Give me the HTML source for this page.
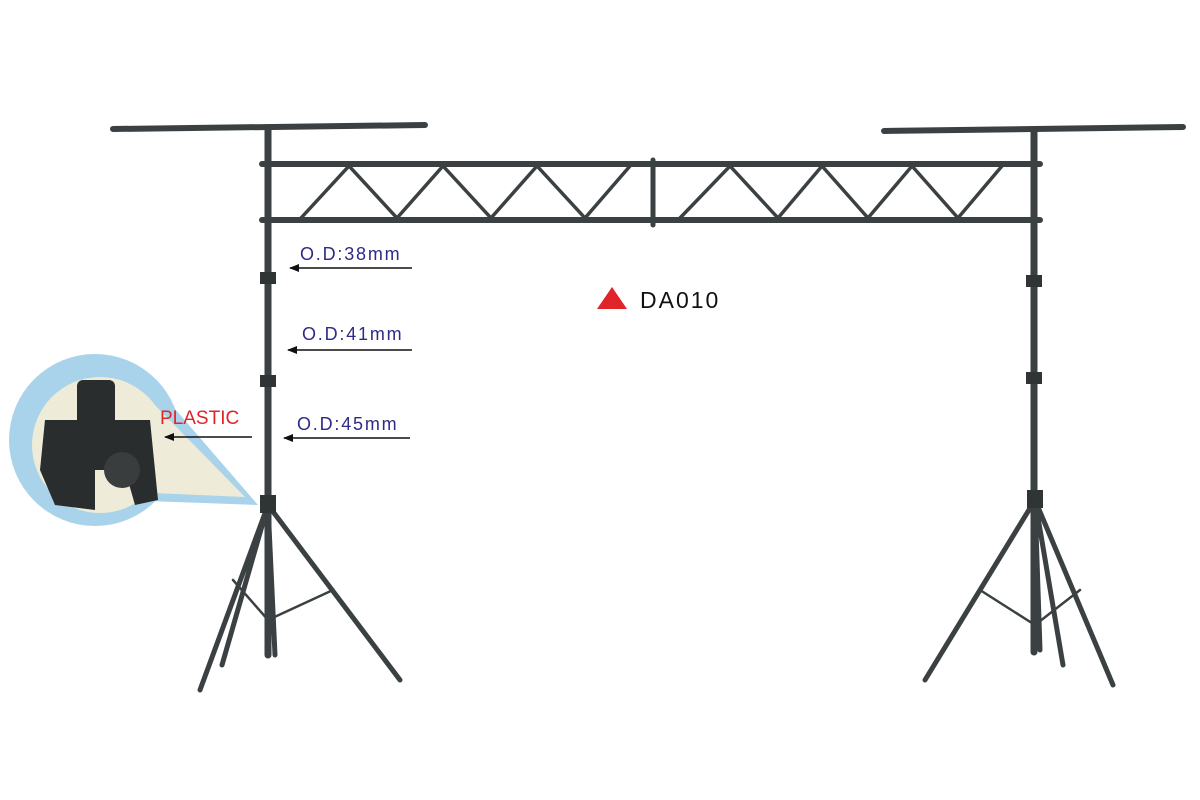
<!DOCTYPE html>
<html><head><meta charset="utf-8"><style>
html,body{margin:0;padding:0;background:#fff;}
svg{display:block;}
text{font-family:"Liberation Sans",sans-serif;}
</style></head><body>
<svg width="1200" height="800" viewBox="0 0 1200 800">
<defs><marker id="ah" markerWidth="10" markerHeight="8" refX="9" refY="4" orient="auto" markerUnits="userSpaceOnUse"><path d="M0,0 L10,4 L0,8 Z" fill="#111"/></marker></defs>
<!-- inset -->
<path d="M150,380 L258,505 L120,500 Z" fill="#a9d3ea"/>
<circle cx="95" cy="440" r="86" fill="#a9d3ea"/>
<path d="M150,400 L245,497 L130,492 Z" fill="#eeecd8"/>
<circle cx="100" cy="445" r="68" fill="#eeecd8"/>
<g fill="#2a2d2e">
<rect x="77" y="380" width="38" height="50" rx="6"/>
<path d="M45,420 L150,420 L158,500 L135,505 L125,470 L95,470 L95,510 L55,505 L40,470 Z"/>
<circle cx="122" cy="470" r="18" fill="#3a3d3e"/>
</g>
<!-- T bars -->
<g stroke="#3b4142" stroke-linecap="round" fill="none">
<path d="M113,129 L425,125" stroke-width="6"/>
<path d="M884,131 L1183,127" stroke-width="6"/>
<path d="M268,128 L268,655" stroke-width="7"/>
<path d="M1034,130 L1034,652" stroke-width="7"/>
<path d="M262,164 L1040,164" stroke-width="6"/>
<path d="M262,220 L1040,220" stroke-width="6"/>
<path d="M653,160 L653,225" stroke-width="5"/>
<path d="M301,218 L349,166 L397,218 L443,166 L491,218 L537,166 L585,218 L630,166" stroke-width="3.5"/>
<path d="M680,218 L730,166 L778,218 L822,166 L868,218 L912,166 L958,218 L1002,166" stroke-width="3.5"/>
<path d="M268,505 L200,690 M268,505 L400,680 M268,505 L222,665 M268,505 L275,655" stroke-width="5"/>
<path d="M233,580 L268,620 L333,590" stroke-width="2.5"/>
<path d="M1035,500 L925,680 M1035,500 L1113,685 M1035,500 L1063,665 M1035,500 L1040,650" stroke-width="5"/>
<path d="M980,590 L1035,625 L1080,590" stroke-width="2.5"/>
</g>
<g fill="#2f3435">
<rect x="260" y="272" width="16" height="12"/><rect x="260" y="375" width="16" height="12"/>
<rect x="1026" y="275" width="16" height="12"/><rect x="1026" y="372" width="16" height="12"/>
<rect x="260" y="495" width="16" height="18"/><rect x="1027" y="490" width="16" height="18"/>
</g>
<g fill="#2e2a86" font-size="18" letter-spacing="1.8">
<text x="300" y="260">O.D:38mm</text>
<text x="302" y="340">O.D:41mm</text>
<text x="297" y="430">O.D:45mm</text>
</g>
<g stroke="#111" stroke-width="1.5">
<line x1="412" y1="268" x2="290" y2="268" marker-end="url(#ah)"/>
<line x1="412" y1="350" x2="288" y2="350" marker-end="url(#ah)"/>
<line x1="410" y1="438" x2="284" y2="438" marker-end="url(#ah)"/>
<line x1="252" y1="437" x2="165" y2="437" marker-end="url(#ah)"/>
</g>
<text x="160" y="424" fill="#e0242a" font-size="19">PLASTIC</text>
<path d="M597,309 L612,287 L627,309 Z" fill="#e0242a"/>
<text x="640" y="308" fill="#111" font-size="23" letter-spacing="2">DA010</text>
</svg>
</body></html>
